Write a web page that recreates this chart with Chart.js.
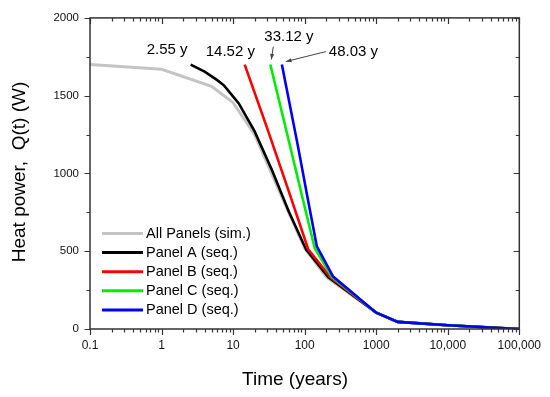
<!DOCTYPE html>
<html>
<head>
<meta charset="utf-8">
<script src="https://cdn.jsdelivr.net/npm/chart.js@4.4.1/dist/chart.umd.min.js"></script>
<style>
  html, body { margin: 0; padding: 0; background: #fff; }
  #wrap { width: 550px; height: 397px; position: relative; }
</style>
</head>
<body>
<div id="wrap"><canvas id="chart" width="550" height="397"></canvas></div>
<script>
// heat power decay, all panels simulated vs. sequential panels
var FONT = "'Liberation Sans', Arial, Helvetica, sans-serif";

var simTime = [0.1, 1, 5, 10, 20, 50, 100, 200, 1000, 2000, 10000, 100000];
var simQ = [1700, 1670, 1560, 1455, 1250, 830, 520, 335, 105, 46, 24, 0];

var panelATime = [2.55, 4, 6, 7.5, 12, 20, 35, 60, 105, 215, 1000, 2000, 10000, 100000];
var panelAQ = [1700, 1655, 1600, 1565, 1450, 1270, 1020, 755, 510, 333, 105, 46, 24, 0];

var panelBTime = [14.52, 30, 60, 112, 230, 1000, 2000, 10000, 100000];
var panelBQ = [1700, 1290, 885, 513, 332, 105, 46, 24, 0];

var panelCTime = [33.12, 60, 90, 138, 240, 1000, 2000, 10000, 100000];
var panelCQ = [1700, 1210, 873, 521, 335, 105, 46, 24, 0];

var panelDTime = [48.03, 80, 110, 148, 250, 1000, 2000, 10000, 100000];
var panelDQ = [1700, 1183, 842, 531, 337, 105, 46, 24, 0];

var seriesLabels = ["All Panels (sim.)", "Panel A (seq.)", "Panel B (seq.)", "Panel C (seq.)", "Panel D (seq.)"];
var seriesColors = ["#c4c4c4", "#000000", "#ff0000", "#00ee00", "#0000ff"];

var xTickValues = [0.1, 1, 10, 100, 1000, 10000, 100000];
var xTickLabels = ["0.1", "1", "10", "100", "1000", "10,000", "100,000"];
var yMajorTicks = [0, 500, 1000, 1500, 2000];
var yMinorTicks = [250, 750, 1250, 1750];

// start-time callouts: [label, start time, dx, dy, arrow?]
var startNotes = [
  ["2.55 y", 2.55, -44, -15, false],
  ["14.52 y", 14.52, -39, -13, false],
  ["33.12 y", 33.12, -6, -28, true],
  ["48.03 y", 48.03, 47, -13, true],
];

function pairs(ts, qs) {
  return ts.map(function (t, i) { return { x: t, y: qs[i] }; });
}

var allSeries = [
  pairs(simTime, simQ),
  pairs(panelATime, panelAQ),
  pairs(panelBTime, panelBQ),
  pairs(panelCTime, panelCQ),
  pairs(panelDTime, panelDQ),
];

var xMinorTicks = [];
for (var d = 0; d < xTickValues.length - 1; d++) {
  for (var m = 2; m <= 9; m++) xMinorTicks.push(xTickValues[d] * m);
}

var framePlugin = {
  id: "framePlugin",
  afterDraw: function (chart) {
    var ctx = chart.ctx;
    var a = chart.chartArea;
    var xs = chart.scales.x;
    var ys = chart.scales.y;
    ctx.save();
    ctx.strokeStyle = "#333";
    ctx.lineWidth = 1.5;
    ctx.strokeRect(a.left, a.top, a.right - a.left, a.bottom - a.top);

    ctx.lineWidth = 1.2;
    ctx.beginPath();
    function xt(v, len) {
      var px = Math.round(xs.getPixelForValue(v)) + 0.5;
      ctx.moveTo(px, a.bottom); ctx.lineTo(px, a.bottom + len);
      ctx.moveTo(px, a.top); ctx.lineTo(px, a.top + len);
    }
    function yt(v, len) {
      var py = Math.round(ys.getPixelForValue(v)) + 0.5;
      ctx.moveTo(a.left, py); ctx.lineTo(a.left - len, py);
      ctx.moveTo(a.right, py); ctx.lineTo(a.right - len, py);
    }
    xTickValues.forEach(function (v) { xt(v, 6); });
    xMinorTicks.forEach(function (v) { xt(v, 3.5); });
    yMajorTicks.forEach(function (v) { yt(v, 5.5); });
    yMinorTicks.forEach(function (v) { yt(v, 3.5); });
    ctx.stroke();

    // axis titles
    ctx.fillStyle = "#000";
    ctx.font = "19px " + FONT;
    ctx.textAlign = "center";
    ctx.textBaseline = "middle";
    ctx.fillText("Time (years)", 295, 380);
    ctx.save();
    ctx.translate(20, 172);
    ctx.rotate(-Math.PI / 2);
    ctx.fillText("Heat power,  Q(t) (W)", 0, 0);
    ctx.restore();

    // legend
    ctx.font = "14.5px " + FONT;
    ctx.textAlign = "left";
    chart.data.datasets.forEach(function (ds, i) {
      var ly = 233.5 + i * 19.1;
      ctx.strokeStyle = ds.borderColor;
      ctx.lineWidth = 3;
      ctx.beginPath();
      ctx.moveTo(102, ly);
      ctx.lineTo(143, ly);
      ctx.stroke();
      ctx.fillStyle = "#000";
      ctx.fillText(ds.label, 146, ly + 0.5);
    });

    // start-time callouts
    ctx.font = "15px " + FONT;
    startNotes.forEach(function (n) {
      var px = xs.getPixelForValue(n[1]);
      var py = ys.getPixelForValue(1700);
      var tx = px + n[2];
      var ty = py + n[3];
      ctx.fillStyle = "#000";
      ctx.textAlign = "left";
      ctx.fillText(n[0], tx, ty);
      if (n[4]) {
        var sx, sy;
        if (n[2] > 0) { sx = tx - 3; sy = ty; } else { sx = px + 3; sy = ty + 10; }
        var ex = px + 4, ey = py - 3;
        if (n[2] < 0) { ex = px + 1; ey = py - 5; }
        ctx.strokeStyle = "#444";
        ctx.lineWidth = 1;
        ctx.beginPath();
        ctx.moveTo(sx, sy);
        ctx.lineTo(ex, ey);
        ctx.stroke();
        var ang = Math.atan2(ey - sy, ex - sx);
        ctx.fillStyle = "#444";
        ctx.beginPath();
        ctx.moveTo(ex, ey);
        ctx.lineTo(ex - 6 * Math.cos(ang - 0.35), ey - 6 * Math.sin(ang - 0.35));
        ctx.lineTo(ex - 6 * Math.cos(ang + 0.35), ey - 6 * Math.sin(ang + 0.35));
        ctx.closePath();
        ctx.fill();
      }
    });
    ctx.restore();
  },
};

new Chart(document.getElementById("chart"), {
  type: "line",
  data: {
    datasets: allSeries.map(function (pts, i) {
      return {
        label: seriesLabels[i],
        data: pts,
        borderColor: seriesColors[i],
        backgroundColor: seriesColors[i],
        borderWidth: i === 0 ? 3 : 2.6,
        pointRadius: 0,
        tension: 0,
        fill: false,
        order: seriesLabels.length - 1 - i,
      };
    }),
  },
  options: {
    responsive: false,
    animation: false,
    devicePixelRatio: 1,
    layout: { padding: { top: 13, right: 28, left: 0, bottom: 0 } },
    plugins: {
      legend: { display: false },
      tooltip: { enabled: false },
    },
    scales: {
      x: {
        type: "logarithmic",
        min: 0.1,
        max: 100000,
        afterBuildTicks: function (scale) {
          scale.ticks = xTickValues.map(function (v) { return { value: v }; });
        },
        afterFit: function (scale) { scale.height = 68; },
        grid: { drawOnChartArea: false, drawTicks: false },
        border: { display: false },
        ticks: {
          autoSkip: false,
          maxRotation: 0,
          padding: 9,
          color: "#111",
          font: { family: FONT, size: 12 },
          callback: function (v) {
            var i = xTickValues.indexOf(v);
            return i >= 0 ? xTickLabels[i] : "";
          },
        },
      },
      y: {
        type: "linear",
        min: 0,
        max: 2000,
        afterBuildTicks: function (scale) {
          scale.ticks = yMajorTicks.map(function (v) { return { value: v }; });
        },
        afterFit: function (scale) { scale.width = 90; },
        grid: { drawOnChartArea: false, drawTicks: false },
        border: { display: false },
        ticks: {
          padding: 11,
          color: "#111",
          font: { family: FONT, size: 11.5 },
          callback: function (v) { return String(v); },
        },
      },
    },
  },
  plugins: [framePlugin],
});
</script>
</body>
</html>
